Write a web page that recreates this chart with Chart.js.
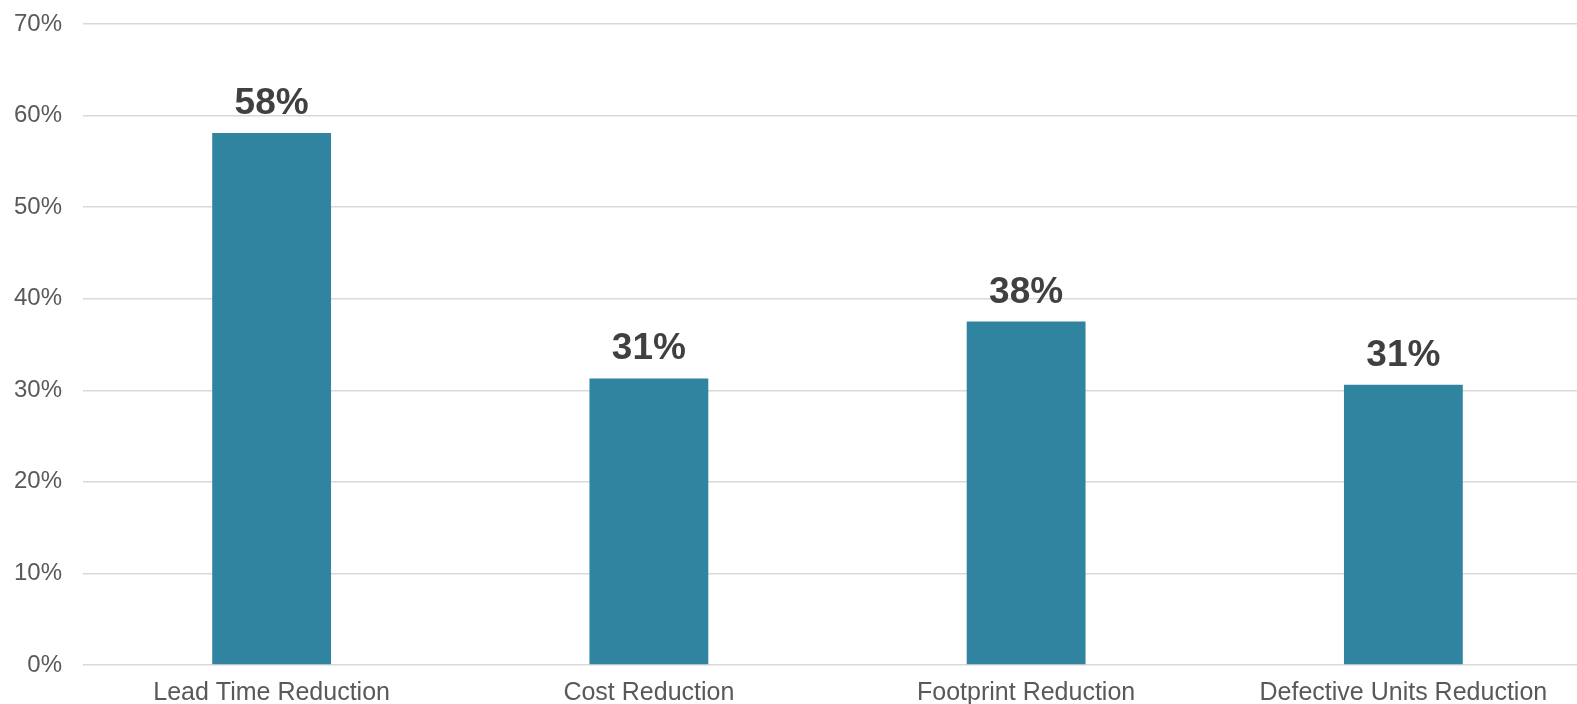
<!DOCTYPE html>
<html>
<head>
<meta charset="utf-8">
<script src="https://cdn.jsdelivr.net/npm/chart.js@4"></script>
<style>
  html, body { margin: 0; padding: 0; background: #ffffff; overflow: hidden; }
  canvas { display: block; }
</style>
</head>
<body>
<!-- plot area runs a little past the right edge of the window, like the original -->
<canvas id="chart" width="1592" height="704"></canvas>
<script>
// ======================
// DATA
// ======================
const categories = [
  "Lead Time Reduction",
  "Cost Reduction",
  "Footprint Reduction",
  "Defective Units Reduction"
];
const reductionValues = [0.581, 0.313, 0.375, 0.306];
const yTickValues = [0, 0.1, 0.2, 0.3, 0.4, 0.5, 0.6, 0.7];

// labels on top of bars
const barLabels = {
  id: "barLabels",
  afterDatasetsDraw(chart) {
    const ctx = chart.ctx;
    const meta = chart.getDatasetMeta(0);
    ctx.save();
    ctx.font = "bold 37px 'Liberation Sans', Arial, sans-serif";
    ctx.fillStyle = "#404040";
    ctx.textAlign = "center";
    ctx.textBaseline = "alphabetic";
    meta.data.forEach((bar, i) => {
      const txt = Math.round(reductionValues[i] * 100) + "%";
      ctx.fillText(txt, bar.x, bar.y - 19);
    });
    ctx.restore();
  }
};

new Chart(document.getElementById("chart"), {
  type: "bar",
  data: {
    labels: categories,
    datasets: [{
      data: reductionValues,
      backgroundColor: "#3184A0",
      borderWidth: 0,
      categoryPercentage: 1,
      barPercentage: 0.315
    }]
  },
  options: {
    responsive: false,
    animation: false,
    layout: { padding: { top: 24, right: 0, bottom: 0, left: 0 } },
    plugins: {
      legend: { display: false },
      tooltip: { enabled: false }
    },
    scales: {
      x: {
        grid: { display: false, drawTicks: false },
        border: { display: false },
        ticks: {
          color: "#595959",
          font: { family: "'Liberation Sans', Arial, sans-serif", size: 25 },
          padding: 13,
          maxRotation: 0
        },
        afterFit(scale) { scale.height = 39; }
      },
      y: {
        min: 0,
        max: 0.7,
        afterBuildTicks(scale) {
          scale.ticks = yTickValues.map(v => ({ value: v }));
        },
        grid: { color: "#d9d9d9", lineWidth: 1.5, drawTicks: false },
        border: { display: false },
        ticks: {
          color: "#595959",
          font: { family: "'Liberation Sans', Arial, sans-serif", size: 24 },
          padding: 21,
          callback: v => Math.round(v * 100) + "%"
        },
        afterFit(scale) {
          scale.width = 83;
          scale.paddingTop = 0;
          scale.paddingBottom = 0;
        }
      }
    }
  },
  plugins: [barLabels]
});
</script>
</body>
</html>
